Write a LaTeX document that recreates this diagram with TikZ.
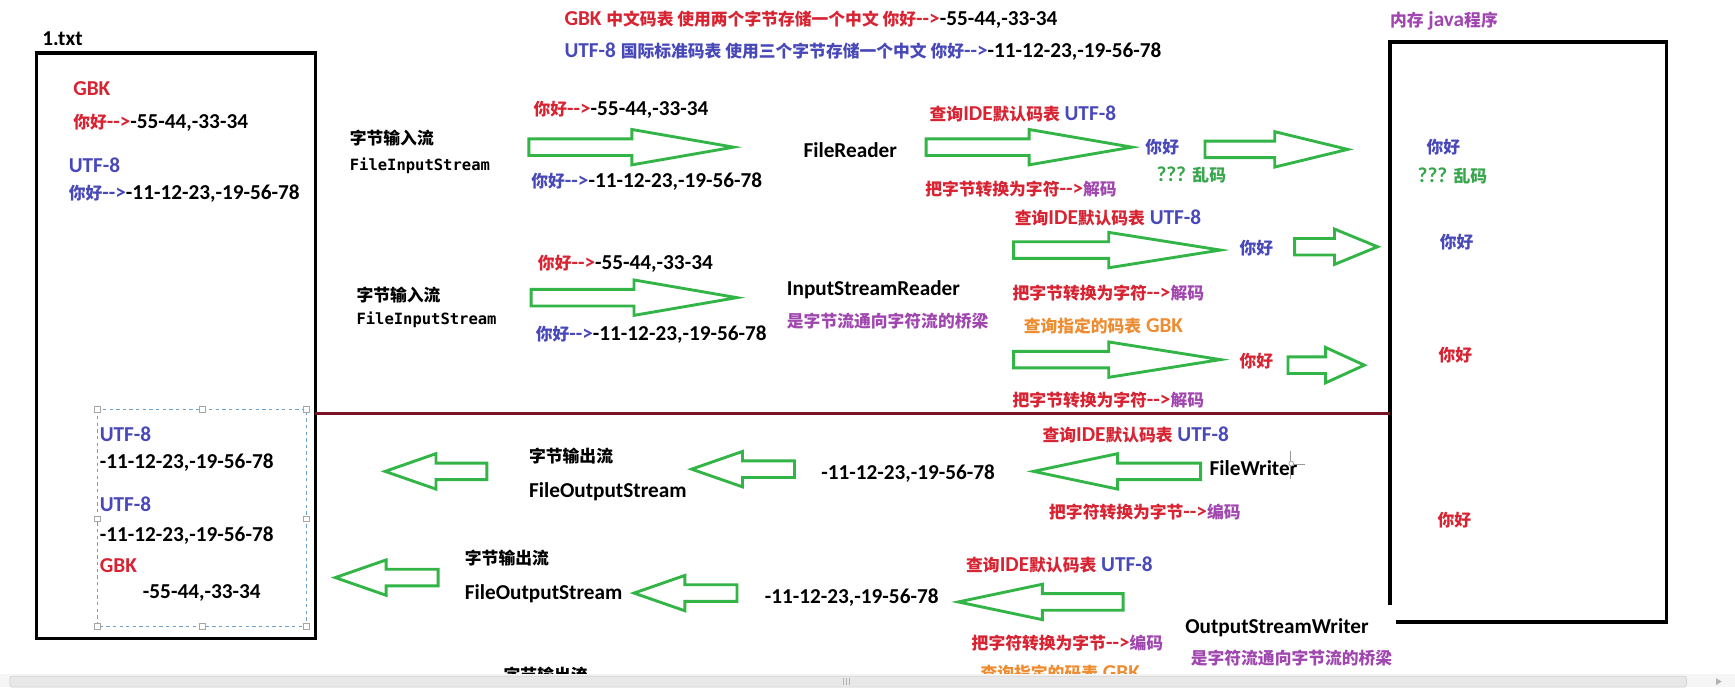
\documentclass[tikz,border=0pt]{standalone}
\usepackage{fontspec}
\setmainfont{Carlito}
\newfontfamily\zhfont{Noto Sans CJK SC}[Scale=0.79]
\newfontfamily\codefont{DejaVu Sans Mono}[Scale=0.73]
\usepackage{xcolor}
\definecolor{txtred}{RGB}{215,35,50}
\definecolor{txtblue}{RGB}{72,72,185}
\definecolor{txtpurple}{RGB}{160,70,175}
\definecolor{txtorange}{RGB}{238,140,50}
\definecolor{txtgreen}{RGB}{55,165,75}
\definecolor{arrgreen}{RGB}{50,180,70}
\definecolor{splitred}{RGB}{120,18,38}
\definecolor{selblue}{RGB}{110,160,205}

\newcommand{\zh}[1]{{\zhfont #1}}
\newcommand{\ptr}{-{}->}
% fat outline arrow: tail x, head base x, tip x, y
\newcommand{\fatarrow}[4]{%
  \draw[fat] (#1,#4-7.5) -- (#2,#4-7.5) -- (#2,#4-16) -- (#3,#4) -- (#2,#4+16) -- (#2,#4+7.5) -- (#1,#4+7.5) -- cycle;}

\tikzset{
  lbl/.style={anchor=west, inner sep=0pt, font=\fontsize{19.2}{22}\selectfont\bfseries},
  code/.style={lbl, font=\fontsize{19.2}{22}\selectfont\codefont\bfseries},
  fat/.style={draw=arrgreen, line width=2.6pt, fill=white},
  boxline/.style={line width=3.2pt, draw=black},
  handle/.style={draw=gray!70, fill=white, line width=0.6pt, minimum size=5pt, inner sep=0pt}
}

\begin{document}
\begin{tikzpicture}[x=1pt,y=-1pt]
  \useasboundingbox (0,0) rectangle (1568,621);
  % notes on top
  \node[lbl] (title1) at (510,18) {\color{txtred}GBK \zh{中文码表 使用两个字节存储一个中文 你好}\ptr\color{black}-55-44,-33-34};
  \node[lbl] (title2) at (510,47) {\color{txtblue}UTF-8 \zh{国际标准码表 使用三个字节存储一个中文 你好}\ptr\color{black}-11-12-23,-19-56-78};

  % the file
  \draw[boxline] (33,48) rectangle (285,577);
  \node[lbl] (filelbl) at (38,35) {1.txt};
  \node[lbl, txtred] (fgbk) at (66,80) {GBK};
  \node[lbl] (fgbkv) at (66,111) {\color{txtred}\zh{你好}\ptr\color{black}-55-44,-33-34};
  \node[lbl, txtblue] (futf) at (62,149) {UTF-8};
  \node[lbl] (futfv) at (62,175) {\color{txtblue}\zh{你好}\ptr\color{black}-11-12-23,-19-56-78};

  % selection in the file
  \draw[selblue, dashed, line width=0.7pt] (88,370) rectangle (277,566);
  \foreach \hx/\hy in {88/370,183/370,277/370,88/469,277/469,88/566,183/566,277/566}
    \node[handle] (hd-\hx-\hy) at (\hx,\hy) {};
  \node[lbl, txtblue] (sutf1) at (90,392) {UTF-8};
  \node[lbl] (snum1) at (90,418) {-11-12-23,-19-56-78};
  \node[lbl, txtblue] (sutf2) at (90,456) {UTF-8};
  \node[lbl] (snum2) at (90,484) {-11-12-23,-19-56-78};
  \node[lbl, txtred] (sgbk) at (90,511) {GBK};
  \node[lbl] (snum3) at (129,536) {-55-44,-33-34};

  % memory
  \draw[boxline] (1256,547) -- (1256,38) -- (1506,38) -- (1506,562) -- (1262,562);
  \node[lbl, txtpurple] (memlbl) at (1256,19) {\zh{内存} java\zh{程序}};
  \node[lbl, txtblue] (mem1) at (1289,133) {\zh{你好}};
  \node[lbl, txtgreen] (mem1b) at (1281,159) {??? \zh{乱码}};
  \node[lbl, txtblue] (mem2) at (1301,219) {\zh{你好}};
  \node[lbl, txtred] (mem3) at (1300,321) {\zh{你好}};
  \node[lbl, txtred] (mem4) at (1299,470) {\zh{你好}};

  % FileReader row
  \node[lbl] (fis1) at (316,125) {\zh{字节输入流}};
  \node[code] (fis1b) at (316,150) {FileInputStream};
  \node[lbl] (in1g) at (482,99) {\color{txtred}\zh{你好}\ptr\color{black}-55-44,-33-34};
  \node[lbl] (in1u) at (480,164) {\color{txtblue}\zh{你好}\ptr\color{black}-11-12-23,-19-56-78};
  \fatarrow{478}{571}{663}{133}
  \node[lbl] (fr) at (726,136) {FileReader};
  \node[lbl] (q1) at (840,103) {\color{txtred}\zh{查询}IDE\zh{默认码表} \color{txtblue}UTF-8};
  \fatarrow{837}{930}{1023}{133}
  \node[lbl] (dec1) at (836,171) {\color{txtred}\zh{把字节转换为字符}\ptr\color{txtpurple}\zh{解码}};
  \node[lbl, txtblue] (nh1) at (1035,133) {\zh{你好}};
  \node[lbl, txtgreen] (lm1) at (1045,158) {??? \zh{乱码}};
  \fatarrow{1089}{1152}{1218}{135}

  % InputStreamReader row
  \node[lbl] (fis2) at (322,267) {\zh{字节输入流}};
  \node[code] (fis2b) at (322,289) {FileInputStream};
  \node[lbl] (in2g) at (486,238) {\color{txtred}\zh{你好}\ptr\color{black}-55-44,-33-34};
  \node[lbl] (in2u) at (484,302) {\color{txtblue}\zh{你好}\ptr\color{black}-11-12-23,-19-56-78};
  \fatarrow{480}{573}{666}{269}
  \node[lbl] (isr) at (711,262) {InputStreamReader};
  \node[lbl, txtpurple] (isrb) at (711,290) {\zh{是字节流通向字符流的桥梁}};
  \node[lbl] (q2) at (917,197) {\color{txtred}\zh{查询}IDE\zh{默认码表} \color{txtblue}UTF-8};
  \fatarrow{916}{1002}{1103}{226}
  \node[lbl, txtblue] (nh2) at (1120,224) {\zh{你好}};
  \fatarrow{1170}{1206}{1245}{223}
  \node[lbl] (dec2) at (915,265) {\color{txtred}\zh{把字节转换为字符}\ptr\color{txtpurple}\zh{解码}};
  \node[lbl, txtorange] (q3) at (925,295) {\zh{查询指定的码表} GBK};
  \fatarrow{916}{1002}{1103}{325}
  \node[lbl, txtred] (nh3) at (1120,326) {\zh{你好}};
  \fatarrow{1164}{1198}{1233}{330}
  \node[lbl] (dec3) at (915,362) {\color{txtred}\zh{把字节转换为字符}\ptr\color{txtpurple}\zh{解码}};

  % input above, output below
  \draw[splitred, line width=3pt] (285,374) -- (1256,374);

  % FileWriter row
  \fatarrow{440}{394}{348}{426}
  \node[lbl] (fos1) at (478,412) {\zh{字节输出流}};
  \node[lbl] (fos1b) at (478,444) {FileOutputStream};
  \fatarrow{718}{671}{625}{424}
  \node[lbl] (num1) at (742,428) {-11-12-23,-19-56-78};
  \node[lbl] (q4) at (942,393) {\color{txtred}\zh{查询}IDE\zh{默认码表} \color{txtblue}UTF-8};
  \fatarrow{1085}{1010}{934}{426}
  \node[lbl] (fw) at (1093,423) {FileWriter};
  \node[lbl] (enc1) at (948,463) {\color{txtred}\zh{把字符转换为字节}\ptr\color{txtpurple}\zh{编码}};
  \draw[gray!80, line width=0.8pt] (1166,408) -- (1166,433);   % mouse cursor
  \draw[gray!80, line width=0.8pt] (1166,420) -- (1179,420);
  \draw[gray!80, line width=0.6pt, fill=white] (1167,419) circle (2.2pt);

  % OutputStreamWriter row
  \fatarrow{396}{349}{303}{522}
  \node[lbl] (fos2) at (420,504) {\zh{字节输出流}};
  \node[lbl] (fos2b) at (420,537) {FileOutputStream};
  \fatarrow{666}{619}{573}{536}
  \node[lbl] (num2) at (691,540) {-11-12-23,-19-56-78};
  \node[lbl] (q5) at (873,511) {\color{txtred}\zh{查询}IDE\zh{默认码表} \color{txtblue}UTF-8};
  \fatarrow{1015}{942}{866}{544}
  \node[lbl] (osw) at (1071,567) {OutputStreamWriter};
  \node[lbl, txtpurple] (oswb) at (1076,595) {\zh{是字符流通向字节流的桥梁}};
  \node[lbl] (enc2) at (878,581) {\color{txtred}\zh{把字符转换为字节}\ptr\color{txtpurple}\zh{编码}};
  \node[lbl, txtorange] (q6) at (886,608) {\zh{查询指定的码表} GBK};
  \node[lbl] (fos3) at (455,610) {\zh{字节输出流}};

  % scroll bar
  \fill[gray!8] (0,609) rectangle (1568,621);
  \draw[gray!45, fill=gray!18, rounded corners=2pt] (9,611) rectangle (1524,621);
  \foreach \gx in {762,765,768}
    \draw[gray!60, line width=0.6pt] (\gx,613) -- (\gx,619);
  \fill[gray!60] (1551,613) -- (1556,616) -- (1551,619) -- cycle;
\end{tikzpicture}
\end{document}
